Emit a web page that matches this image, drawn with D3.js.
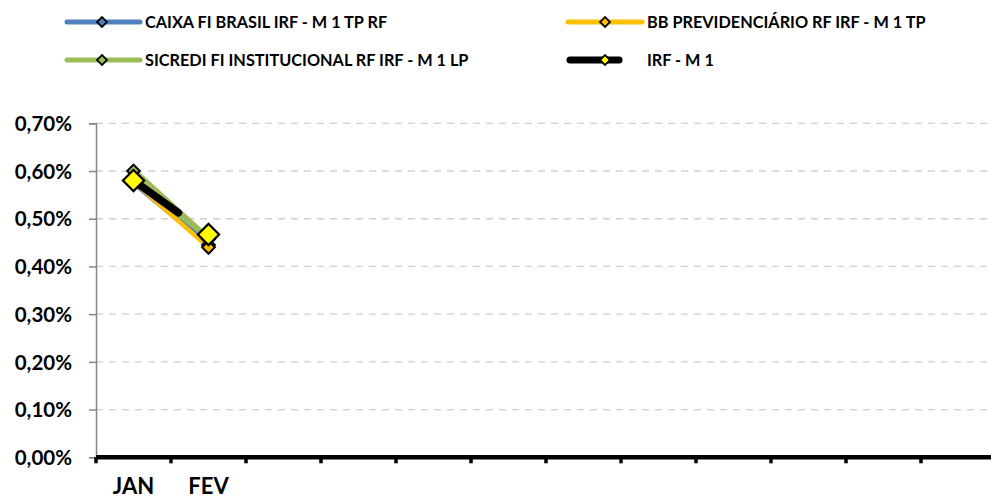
<!DOCTYPE html>
<html><head><meta charset="utf-8">
<script src="https://cdn.jsdelivr.net/npm/d3@7"></script>
<style>body{margin:0;background:#fff;overflow:hidden}svg{display:block}text{font-family:Lato,"Open Sans",sans-serif;font-weight:bold;fill:#000}</style>
</head><body><svg id="c" width="991" height="500"></svg>
<script>
const categories = ["JAN","FEV","","","","","","","","","",""];
const seriesNames = ["CAIXA FI BRASIL IRF - M 1 TP RF","BB PREVIDENCIÁRIO RF IRF - M 1 TP","SICREDI FI INSTITUCIONAL RF IRF - M 1 LP","IRF - M 1"];
const caixa = [0.575, 0.445];
const bb = [0.578, 0.440];
const sicredi = [0.600, 0.457];
const irf = [0.580, 0.467];
const yTicks = [0,0.1,0.2,0.3,0.4,0.5,0.6,0.7];

const svg = d3.select("#c");
const x = d3.scaleBand().domain(d3.range(categories.length)).range([96, 996]);
const y = d3.scaleLinear().domain([0, 0.7]).range([457.3, 123.3]);
const fmt = v => v.toFixed(2).replace(".", ",") + "%";

// gridlines
svg.append("g").selectAll("line").data(yTicks.slice(1)).join("line")
  .attr("x1", 96).attr("x2", 991).attr("y1", d => y(d)).attr("y2", d => y(d))
  .attr("stroke", "#d0d0d0").attr("stroke-width", 1.3).attr("stroke-dasharray", "7,6");

// y axis
const yAxis = svg.append("g").attr("transform", "translate(96,0)")
  .call(d3.axisLeft(y).tickValues(yTicks).tickFormat(fmt).tickSize(7).tickPadding(16));
yAxis.select(".domain").attr("stroke", "#868686").attr("stroke-width", 1.5);
yAxis.selectAll(".tick line").attr("stroke", "#868686").attr("stroke-width", 1.5);
yAxis.selectAll("text").style("font-size", "20.5px").attr("dy", "0.35em").attr("x", -24);

// x axis
const xb = d3.scaleLinear().domain([0, categories.length]).range([96, 996]);
const xAxis = svg.append("g").attr("transform", "translate(0,457.3)");
xAxis.append("line").attr("x1", 96).attr("x2", 996).attr("stroke", "#000").attr("stroke-width", 4.5);
xAxis.selectAll(".tk").data(d3.range(categories.length + 1)).join("line").attr("class", "tk")
  .attr("x1", d => xb(d)).attr("x2", d => xb(d)).attr("y1", 0).attr("y2", 6)
  .attr("stroke", "#000").attr("stroke-width", 3.5);
xAxis.selectAll("text").data(categories).join("text")
  .attr("x", (d, i) => x(i) + x.bandwidth() / 2).attr("y", 37)
  .attr("text-anchor", "middle").style("font-size", "22px").text(d => d);

const cx = i => x(i) + x.bandwidth() / 2;
const line = d3.line().x((d, i) => cx(i)).y(d => y(d));

function drawSeries(vals, color, width, partial) {
  const p = svg.append("path").datum(vals).attr("d", line).attr("fill", "none")
    .attr("stroke", color).attr("stroke-width", width).attr("stroke-linecap", "round");
  if (partial) {
    const L = p.node().getTotalLength();
    p.attr("stroke-dasharray", (L * partial) + "," + L);
  }
  return p;
}
function drawMarkers(vals, fill, size, sw) {
  svg.append("g").selectAll("rect").data(vals).join("rect")
    .attr("x", -size / 2).attr("y", -size / 2).attr("width", size).attr("height", size)
    .attr("transform", (d, i) => `translate(${cx(i)},${y(d)}) rotate(45)`)
    .attr("fill", fill).attr("stroke", "#000").attr("stroke-width", sw);
}

drawSeries(sicredi, "#9bbb59", 6.5);
drawSeries(caixa, "#4f81bd", 5);
drawSeries(bb, "#ffc000", 4.5);
drawMarkers(sicredi, "#9bbb59", 9, 2);
drawMarkers(caixa, "#4f81bd", 9, 2);
drawMarkers(bb, "#ffc000", 9, 2);
drawSeries(irf, "#000", 7.5, 0.6);
drawMarkers(irf, "#ffff00", 15, 2.2);

// legend
const legend = [
  {name: seriesNames[0], color: "#4f81bd", mfill: "#4f81bd", x1: 67, x2: 140, mx: 102, tx: 145, y: 22, w: 5},
  {name: seriesNames[1], color: "#ffc000", mfill: "#ffc000", x1: 568, x2: 642, mx: 605, tx: 647, y: 22, w: 5},
  {name: seriesNames[2], color: "#9bbb59", mfill: "#9bbb59", x1: 67, x2: 140, mx: 102, tx: 145, y: 60, w: 5},
  {name: seriesNames[3], color: "#000", mfill: "#ffff00", x1: 570, x2: 619, mx: 605, tx: 647, y: 60, w: 7}
];
const lg = svg.append("g").selectAll("g").data(legend).join("g");
lg.append("line").attr("x1", d => d.x1).attr("x2", d => d.x2).attr("y1", d => d.y).attr("y2", d => d.y)
  .attr("stroke", d => d.color).attr("stroke-width", d => d.w).attr("stroke-linecap", "round");
lg.append("rect").attr("x", -3.5).attr("y", -3.5).attr("width", 7).attr("height", 7)
  .attr("transform", d => `translate(${d.mx},${d.y}) rotate(45)`)
  .attr("fill", d => d.mfill).attr("stroke", "#000").attr("stroke-width", 1.8);
lg.append("text").attr("x", d => d.tx).attr("y", d => d.y).attr("dy", "0.36em")
  .style("font-size", "16.3px").text(d => d.name);
</script></body></html>
